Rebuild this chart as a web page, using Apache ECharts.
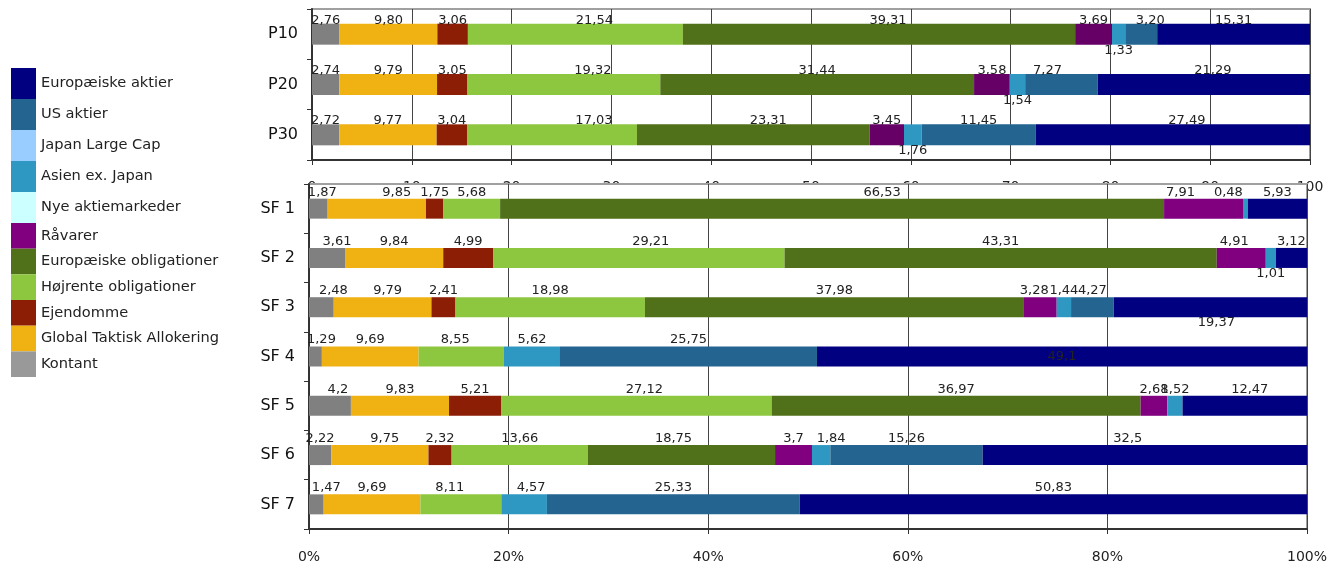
<!DOCTYPE html>
<html>
<head>
<meta charset="utf-8">
<script src="https://cdn.jsdelivr.net/npm/echarts@6/dist/echarts.min.js"></script>
<style>
html,body{margin:0;padding:0;background:#ffffff;}
#chart{width:1330px;height:564px;}
</style>
</head>
<body>
<div id="chart"></div>
<script>
// ---------------- DATA ----------------
const seriesNames = ['Kontant', 'Global Taktisk Allokering', 'Ejendomme', 'Højrente obligationer',
  'Europæiske obligationer', 'Råvarer', 'Nye aktiemarkeder', 'Asien ex. Japan', 'Japan Large Cap',
  'US aktier', 'Europæiske aktier'];

const topCategories = ['P10', 'P20', 'P30'];
const sfCategories = ['SF 1', 'SF 2', 'SF 3', 'SF 4', 'SF 5', 'SF 6', 'SF 7'];

// values in seriesNames order
const p10 = [2.76, 9.80, 3.06, 21.54, 39.31, 3.69, null, 1.33, null, 3.20, 15.31];
const p20 = [2.74, 9.79, 3.05, 19.32, 31.44, 3.58, null, 1.54, null, 7.27, 21.29];
const p30 = [2.72, 9.77, 3.04, 17.03, 23.31, 3.45, null, 1.76, null, 11.45, 27.49];

const sf1 = [1.87, 9.85, 1.75, 5.68, 66.53, 7.91, null, 0.48, null, null, 5.93];
const sf2 = [3.61, 9.84, 4.99, 29.21, 43.31, 4.91, null, 1.01, null, null, 3.12];
const sf3 = [2.48, 9.79, 2.41, 18.98, 37.98, 3.28, null, 1.44, null, 4.27, 19.37];
const sf4 = [1.29, 9.69, null, 8.55, null, null, null, 5.62, null, 25.75, 49.1];
const sf5 = [4.2, 9.83, 5.21, 27.12, 36.97, 2.68, null, 1.52, null, null, 12.47];
const sf6 = [2.22, 9.75, 2.32, 13.66, 18.75, 3.7, null, 1.84, null, 15.26, 32.5];
const sf7 = [1.47, 9.69, null, 8.11, null, null, null, 4.57, null, 25.33, 50.83];

const legendGroupA = ['Europæiske aktier', 'US aktier', 'Japan Large Cap', 'Asien ex. Japan', 'Nye aktiemarkeder'];
const legendGroupB = ['Råvarer', 'Europæiske obligationer', 'Højrente obligationer', 'Ejendomme', 'Global Taktisk Allokering', 'Kontant'];

// ---------------- STYLE ----------------
const FONT = 'DejaVu Sans';
const barColors = {
  'Kontant': '#808080', 'Global Taktisk Allokering': '#F0B213', 'Ejendomme': '#8B1E04',
  'Højrente obligationer': '#8DC63F', 'Europæiske obligationer': '#507019', 'Råvarer': '#800080',
  'Nye aktiemarkeder': '#CCFFFF', 'Asien ex. Japan': '#2E98C2', 'Japan Large Cap': '#99CCFF',
  'US aktier': '#236590', 'Europæiske aktier': '#000080'
};
const topBarColors = Object.assign({}, barColors, { 'Råvarer': '#660066' });
const legendColors = Object.assign({}, barColors, { 'Kontant': '#999999' });

// label placement tweaks (keyed "category|series")
const labelBelow = ['P10|Asien ex. Japan', 'P20|Asien ex. Japan', 'P30|Asien ex. Japan',
  'SF 2|Asien ex. Japan', 'SF 3|Europæiske aktier'];
const labelInside = ['SF 4|Europæiske aktier'];
const labelShiftX = {
  'P10|Højrente obligationer': 19, 'P10|Europæiske obligationer': 9, 'P10|US aktier': 9,
  'P20|Højrente obligationer': 29, 'P20|US aktier': -14, 'P20|Europæiske aktier': 9,
  'P30|Højrente obligationer': 42, 'P30|Europæiske obligationer': 15, 'P30|Europæiske aktier': 14,
  'SF 1|Kontant': 4, 'SF 1|Global Taktisk Allokering': 20, 'SF 1|Europæiske obligationer': 50,
  'SF 1|Råvarer': -23, 'SF 1|Asien ex. Japan': -17,
  'SF 2|Kontant': 10, 'SF 2|Højrente obligationer': 12, 'SF 2|Råvarer': -7,
  'SF 3|Kontant': 12, 'SF 3|Global Taktisk Allokering': 5, 'SF 3|Råvarer': -6, 'SF 3|Europæiske aktier': 6,
  'SF 4|Kontant': 6, 'SF 4|Højrente obligationer': -6,
  'SF 5|Kontant': 8, 'SF 5|Højrente obligationer': 8, 'SF 5|Europæiske aktier': 5,
  'SF 6|Global Taktisk Allokering': 5, 'SF 6|Europæiske obligationer': -8, 'SF 6|Asien ex. Japan': 10,
  'SF 6|Europæiske aktier': -17,
  'SF 7|Kontant': 10, 'SF 7|Højrente obligationer': -11, 'SF 7|Asien ex. Japan': 7
};

const topRows = [p10, p20, p30];
const sfRows = [sf1, sf2, sf3, sf4, sf5, sf6, sf7];

function itemFor(v, cat, name) {
  const key = cat + '|' + name;
  const lab = {};
  if (labelBelow.indexOf(key) >= 0) { lab.position = 'bottom'; lab.distance = -1; }
  if (labelInside.indexOf(key) >= 0) { lab.position = 'inside'; }
  if (labelShiftX[key] !== undefined) { lab.offset = [labelShiftX[key], 0]; }
  return { value: v, label: lab };
}

const series = [];
seriesNames.forEach(function (name, i) {
  series.push({
    name: name, type: 'bar', stack: 'top', xAxisIndex: 0, yAxisIndex: 0,
    barWidth: 21, z: 2, zlevel: 0,
    itemStyle: { color: topBarColors[name] },
    label: {
      show: true, position: 'top', distance: -3, color: '#222', fontSize: 13, fontFamily: FONT,
      formatter: function (p) { return p.value == null ? '' : Number(p.value).toFixed(2).replace('.', ','); }
    },
    data: topRows.map(function (r, ci) { return itemFor(r[i], topCategories[ci], name); })
  });
  series.push({
    name: name, type: 'bar', stack: 'sf', xAxisIndex: 1, yAxisIndex: 1,
    barWidth: 20, z: 5, zlevel: 1,
    itemStyle: { color: barColors[name] },
    label: {
      show: true, position: 'top', distance: 0, color: '#222', fontSize: 13, fontFamily: FONT,
      formatter: function (p) { return p.value == null ? '' : String(p.value).replace('.', ','); }
    },
    data: sfRows.map(function (r, ci) { return itemFor(r[i], sfCategories[ci], name); })
  });
});

const axisLineStyle = { color: '#333', width: 2 };
const legendText = { color: '#222', fontSize: 14.6, fontFamily: FONT };

const option = {
  animation: false,
  backgroundColor: '#ffffff',
  textStyle: { fontFamily: FONT },
  legend: [
    {
      orient: 'vertical', left: 11, top: 68, padding: 0, itemWidth: 25, itemHeight: 31, itemGap: 0,
      icon: 'rect', selectedMode: false, textStyle: legendText,
      data: legendGroupA.map(function (n) { return { name: n, itemStyle: { color: legendColors[n] } }; })
    },
    {
      orient: 'vertical', left: 11, top: 223, padding: 0, itemWidth: 25, itemHeight: 25.67, itemGap: 0,
      icon: 'rect', selectedMode: false, textStyle: legendText,
      data: legendGroupB.map(function (n) { return { name: n, itemStyle: { color: legendColors[n] } }; })
    }
  ],
  grid: [
    { left: 312, top: 9, width: 998, height: 151, show: true, borderColor: '#A0A0A0', borderWidth: 2,
      backgroundColor: 'transparent', z: 0, zlevel: 0 },
    { left: 309, top: 184, width: 1000, height: 347, show: true, borderColor: '#A0A0A0', borderWidth: 2,
      backgroundColor: '#ffffff', z: 0, zlevel: 1 }
  ],
  xAxis: [
    {
      gridIndex: 0, type: 'value', min: 0, max: 100, interval: 10, z: 0, zlevel: 0,
      axisLine: { show: true, lineStyle: axisLineStyle },
      axisTick: { show: true, length: 5, lineStyle: { color: '#333', width: 1 } },
      axisLabel: { color: '#222', fontSize: 14, fontFamily: FONT, margin: 20 },
      splitLine: { show: true, lineStyle: { color: '#444', width: 1 } }
    },
    {
      gridIndex: 1, type: 'value', min: 0, max: 100, interval: 20, z: 4, zlevel: 1,
      axisLine: { show: true, lineStyle: axisLineStyle },
      axisTick: { show: true, length: 5, lineStyle: { color: '#333', width: 1 } },
      axisLabel: { color: '#222', fontSize: 14, fontFamily: FONT, margin: 21, formatter: '{value}%' },
      splitLine: { show: true, lineStyle: { color: '#444', width: 1 } }
    }
  ],
  yAxis: [
    {
      gridIndex: 0, type: 'category', data: topCategories, inverse: true, z: 0, zlevel: 0,
      axisLine: { show: true, lineStyle: axisLineStyle },
      axisTick: { show: true, length: 5, lineStyle: { color: '#333', width: 1 } },
      axisLabel: { color: '#111', fontSize: 16, fontFamily: FONT, margin: 14 },
      splitLine: { show: false }
    },
    {
      gridIndex: 1, type: 'category', data: sfCategories, inverse: true, z: 4, zlevel: 1,
      axisLine: { show: true, lineStyle: axisLineStyle },
      axisTick: { show: true, length: 5, lineStyle: { color: '#333', width: 1 } },
      axisLabel: { color: '#111', fontSize: 16, fontFamily: FONT, margin: 14 },
      splitLine: { show: false }
    }
  ],
  series: series
};

const chart = echarts.init(document.getElementById('chart'), null, { renderer: 'canvas' });
chart.setOption(option);
</script>
</body>
</html>
